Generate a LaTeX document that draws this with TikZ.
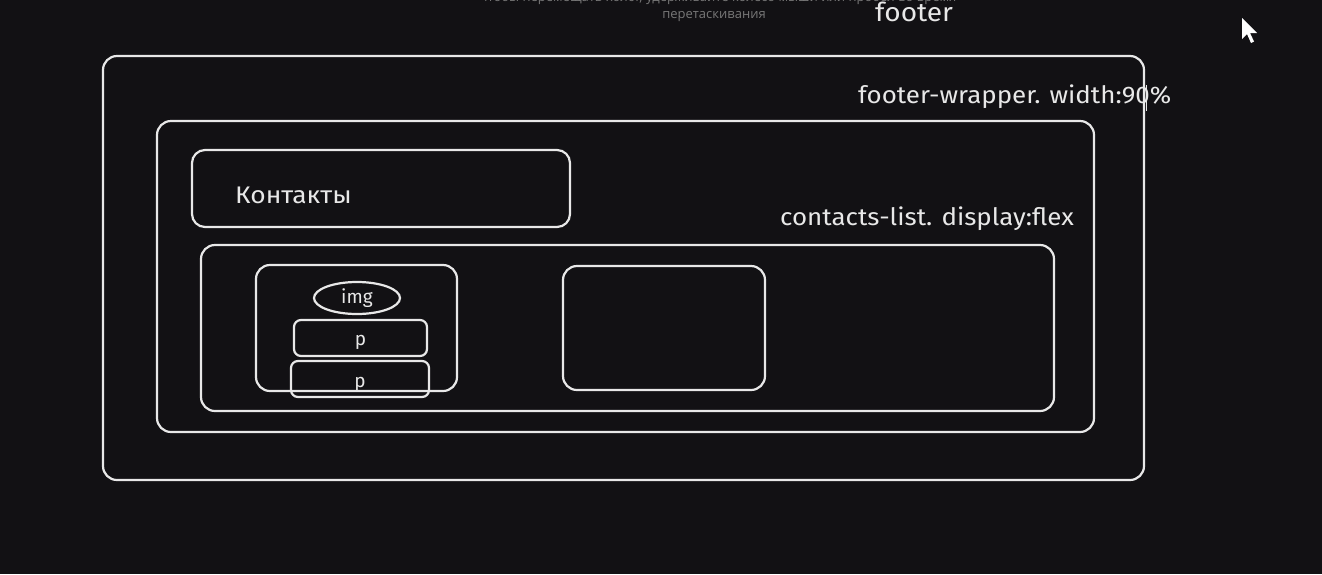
\documentclass[tikz,border=0pt]{standalone}
\usepackage{graphicx}
\usepackage{fontspec}
\setmainfont{Fira Sans}
\newfontfamily\hintfont{Open Sans}
\usetikzlibrary{shapes.geometric}

\definecolor{canvas}{HTML}{121114}
\definecolor{chalk}{HTML}{E8E8E8}
\definecolor{hintgray}{HTML}{787878}

\newcommand{\widetext}[1]{\scalebox{1.08}[1]{#1}}

\tikzset{box/.style={draw=chalk,line width=2.2pt,rounded corners=14pt,inner sep=0pt},
label note/.style={font=\fontsize{24}{26}\selectfont,text=chalk,anchor=west,inner sep=0pt},
inner text/.style={font=\fontsize{19}{21}\selectfont,text=chalk,inner sep=0pt},
hint/.style={font=\hintfont\fontsize{13}{15}\selectfont,text=hintgray,inner sep=0pt}}

\begin{document}
\begin{tikzpicture}[x=1pt,y=-1pt]
% canvas
\fill [canvas] (0,0) rectangle (1322,574);
\useasboundingbox (0,0) rectangle (1322,574);

%% hint at the top (cut off by the page edge)
\node [hint] (hint1) at (718,-2) {чтобы перемещать холст, удерживайте колесо мыши или пробел во время};
\node [hint] (hint2) at (714,17) {перетаскивания};

%% boxes
\node [box,minimum width=1041pt,minimum height=424pt] (footer) at (623.5,268) {};
\node [box,minimum width=937pt,minimum height=311pt] (wrapper) at (625.5,276.5) {};
\node [box,minimum width=378pt,minimum height=77pt,rounded corners=13pt] (title) at (381,188.5) {};
\node [box,minimum width=853pt,minimum height=166pt] (list) at (627.5,328) {};
\node [box,minimum width=201pt,minimum height=126pt] (card1) at (356.5,328) {};
\node [box,minimum width=202pt,minimum height=124pt] (card2) at (664,328) {};
\node [box,ellipse,minimum width=86pt,minimum height=32pt] (img) at (357,298) {};
\node [box,minimum width=133pt,minimum height=36pt,rounded corners=7pt] (p1) at (360.5,338) {};
\node [box,minimum width=138pt,minimum height=36pt,rounded corners=7pt] (p2) at (360,379) {};

%% labels
\node [label note,font=\fontsize{26}{28}\selectfont] (footerlbl) at (875,12) {\widetext{footer}};
\node [label note] (wrapperlbl) at (858,97) {\widetext{footer-wrapper. width:90\%}};
\node [label note] (listlbl) at (780,219) {\widetext{contacts-list. display:flex}};
\node [label note] (titlelbl) at (235,195) {\scalebox{1.1}[1]{Контакты}};
\node [inner text] (imglbl) at (img) {img};
\node [inner text,yshift=-4pt] (p1lbl) at (p1) {p};
\node [inner text,yshift=-5pt] (p2lbl) at (p2) {p};

%% text caret and mouse pointer
\coordinate (caret top) at (1146,85);
\coordinate (caret bot) at (1146,111);
\draw [chalk,line width=1pt] (caret top) -- (caret bot);
\coordinate (pointer) at (1242,18);
\fill [white] (pointer) -- ++(0,21) -- ++(5,-5) -- ++(4,9) -- ++(3,-1.5) -- ++(-4,-8.5) -- ++(7,0) -- cycle;

\end{tikzpicture}
\end{document}
